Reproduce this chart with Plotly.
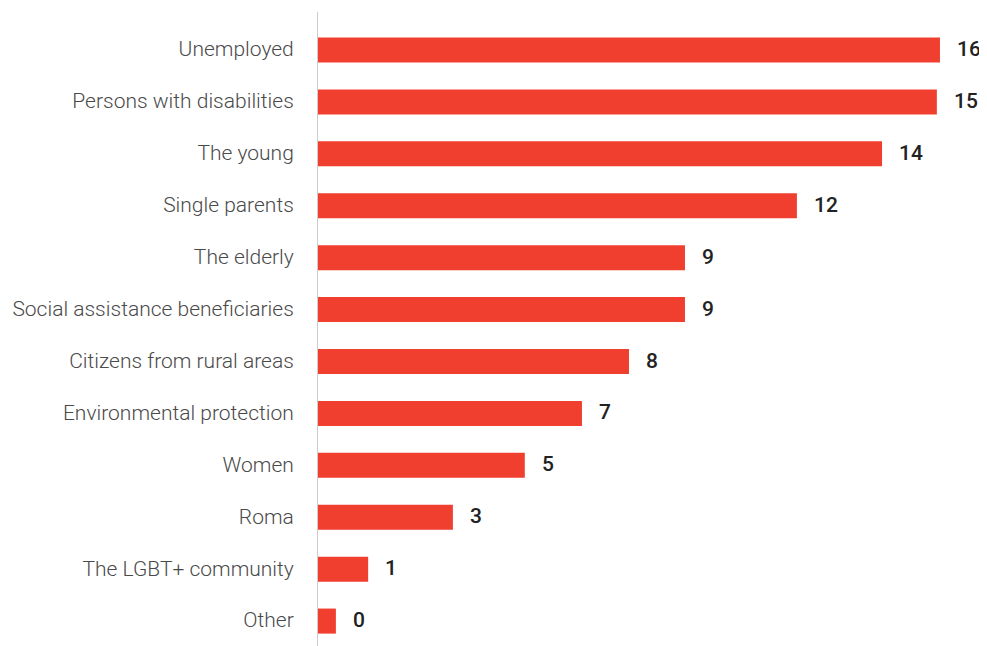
import plotly.graph_objects as go

categories = [
    "Unemployed", "Persons with disabilities", "The young", "Single parents",
    "The elderly", "Social assistance beneficiaries", "Citizens from rural areas",
    "Environmental protection", "Women", "Roma", "The LGBT+ community", "Other",
]
values = [16.0, 15.92, 14.51, 12.32, 9.44, 9.44, 8.0, 6.79, 5.32, 3.47, 1.29, 0.46]
value_labels = ["16", "15", "14", "12", "9", "9", "8", "7", "5", "3", "1", "0"]

BAR_COLOR = "#F03E2F"

fig = go.Figure()
fig.add_trace(go.Bar(
    x=values, y=categories, orientation="h",
    marker=dict(color=BAR_COLOR, line=dict(width=0)),
    hoverinfo="skip",
))

for v, c, t in zip(values, categories, value_labels):
    fig.add_annotation(
        x=v, y=c, text=t, showarrow=False, xanchor="left", yanchor="middle",
        xshift=15, yshift=1, font=dict(family="Roboto", size=21, color="#222222", weight=500),
    )

fig.update_layout(
    width=979, height=638,
    margin=dict(l=310, r=0, t=4, b=0),
    paper_bgcolor="white", plot_bgcolor="white",
    bargap=0.518,
    showlegend=False,
    xaxis=dict(range=[0, 17.21], visible=False, showgrid=False, zeroline=False),
    yaxis=dict(
        type="category", range=[11.48, -0.732],
        showline=True, linecolor="#cccccc", linewidth=1,
        showgrid=False, zeroline=False,
        ticks="outside", ticklen=19, tickcolor="rgba(0,0,0,0)",
        ticklabelshift=1,
        tickfont=dict(family="Roboto Light, Roboto", size=21, color="#4a4a4a", weight=300),
    ),
)

fig.write_html("out.html")
